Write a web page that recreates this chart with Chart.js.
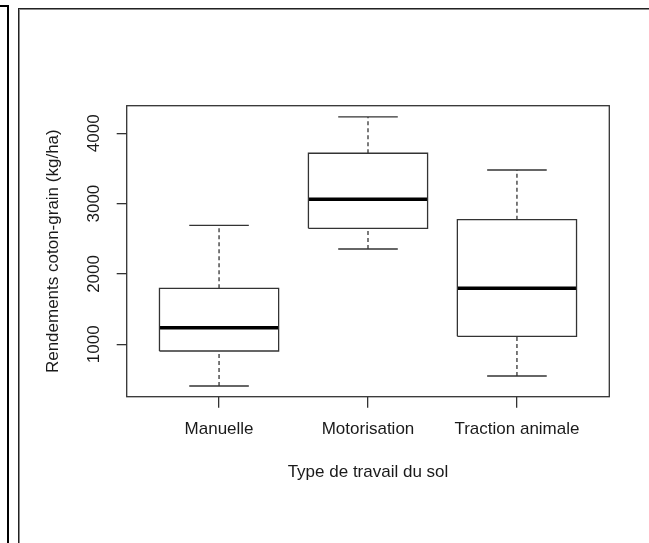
<!DOCTYPE html>
<html lang="fr">
<head>
    <meta charset="UTF-8">
    <title>Rendements coton-grain</title>
    <script src="https://cdn.jsdelivr.net/npm/chart.js"></script>
    <style>
        body {
            margin: 0;
            padding: 0;
            background-color: #fff;
        }

        .page {
            position: relative;
            width: 649px;
            height: 543px;
            overflow: hidden;
            background-color: #fff;
        }

        .page canvas {
            position: absolute;
            left: 0;
            top: 0;
        }

        .frame-left {
            position: absolute;
            left: -12px;
            top: 5px;
            width: 19px;
            height: 600px;
            border-top: 2px solid #000;
            border-right: 2px solid #000;
        }

        .frame-main {
            position: absolute;
            left: 18px;
            top: 8px;
            width: 700px;
            height: 600px;
            border-top: 1px solid #222;
            border-left: 1px solid #222;
            box-shadow: inset 1px 1px 0 #8a8a8a;
        }
    </style>
</head>
<body>
    <div class="page">
        <canvas id="boxChart" width="649" height="543"></canvas>
        <div class="frame-left"></div>
        <div class="frame-main"></div>
    </div>

    <script>
        // values (kg/ha)
        const categories = ['Manuelle', 'Motorisation', 'Traction animale'];
        const whiskerLow = [407, 2355, 549];
        const quartile1 = [905, 2649, 1114];
        const medians = [1236, 3062, 1796];
        const quartile3 = [1796, 3716, 2772];
        const whiskerHigh = [2692, 4232, 3478];
        const yTicks = [1000, 2000, 3000, 4000];

        const boxHalf = 0.4;
        const capHalf = 0.2;
        const lineColor = '#333';
        const fontFamily = "'Liberation Sans', Arial, sans-serif";

        function segment(points, extra) {
            return Object.assign({
                data: points,
                showLine: true,
                pointRadius: 0,
                borderColor: lineColor,
                borderWidth: 1.3,
                borderJoinStyle: 'miter',
                fill: false,
                tension: 0
            }, extra || {});
        }

        const datasets = [];
        categories.forEach((cat, i) => {
            const x = i + 1;
            // box
            datasets.push(segment([
                { x: x - boxHalf, y: quartile1[i] },
                { x: x + boxHalf, y: quartile1[i] },
                { x: x + boxHalf, y: quartile3[i] },
                { x: x - boxHalf, y: quartile3[i] },
                { x: x - boxHalf, y: quartile1[i] }
            ]));
            // whiskers
            datasets.push(segment([{ x: x, y: quartile3[i] }, { x: x, y: whiskerHigh[i] }], { borderDash: [4, 3] }));
            datasets.push(segment([{ x: x, y: whiskerLow[i] }, { x: x, y: quartile1[i] }], { borderDash: [4, 3] }));
            // caps
            datasets.push(segment([{ x: x - capHalf, y: whiskerHigh[i] }, { x: x + capHalf, y: whiskerHigh[i] }]));
            datasets.push(segment([{ x: x - capHalf, y: whiskerLow[i] }, { x: x + capHalf, y: whiskerLow[i] }]));
            // median
            datasets.push(segment([{ x: x - boxHalf, y: medians[i] }, { x: x + boxHalf, y: medians[i] }], { borderColor: '#000', borderWidth: 3.5, borderCapStyle: 'butt' }));
        });

        const plotBox = {
            id: 'plotBox',
            afterDraw(chart) {
                const { ctx, chartArea } = chart;
                ctx.save();
                ctx.strokeStyle = lineColor;
                ctx.lineWidth = 1.3;
                ctx.strokeRect(chartArea.left, chartArea.top, chartArea.right - chartArea.left, chartArea.bottom - chartArea.top);
                ctx.restore();
            }
        };

        const tickFont = { family: fontFamily, size: 17 };

        new Chart(document.getElementById('boxChart').getContext('2d'), {
            type: 'scatter',
            data: { datasets },
            options: {
                responsive: false,
                animation: false,
                layout: {
                    padding: { left: 0, top: 105.7, right: 39.7, bottom: 60.8 }
                },
                plugins: {
                    legend: { display: false },
                    tooltip: { enabled: false }
                },
                scales: {
                    x: {
                        type: 'linear',
                        min: 0.38,
                        max: 3.62,
                        afterBuildTicks: (scale) => {
                            scale.ticks = categories.map((c, i) => ({ value: i + 1 }));
                        },
                        afterFit: (scale) => { scale.height = 85.5; },
                        border: { display: false },
                        grid: {
                            drawOnChartArea: false,
                            drawTicks: true,
                            tickLength: 11,
                            color: lineColor,
                            lineWidth: 1.3
                        },
                        ticks: {
                            autoSkip: false,
                            maxRotation: 0,
                            padding: 11,
                            color: '#1a1a1a',
                            font: tickFont,
                            callback: (v) => categories[v - 1]
                        },
                        title: {
                            display: true,
                            text: 'Type de travail du sol',
                            color: '#1a1a1a',
                            font: tickFont,
                            padding: 0
                        }
                    },
                    y: {
                        min: 255,
                        max: 4392,
                        afterBuildTicks: (scale) => {
                            scale.ticks = yTicks.map(v => ({ value: v }));
                        },
                        afterFit: (scale) => { scale.width = 126.7; },
                        border: { display: false },
                        grid: {
                            drawOnChartArea: false,
                            drawTicks: true,
                            tickLength: 10,
                            color: lineColor,
                            lineWidth: 1.3
                        },
                        ticks: {
                            minRotation: 90,
                            maxRotation: 90,
                            crossAlign: 'center',
                            padding: 3,
                            color: '#1a1a1a',
                            font: tickFont,
                            callback: (v) => String(v)
                        },
                        title: {
                            display: true,
                            text: 'Rendements coton-grain (kg/ha)',
                            color: '#1a1a1a',
                            font: tickFont,
                            padding: { top: 43, bottom: 0 }
                        }
                    }
                }
            },
            plugins: [plotBox]
        });
    </script>
</body>
</html>
